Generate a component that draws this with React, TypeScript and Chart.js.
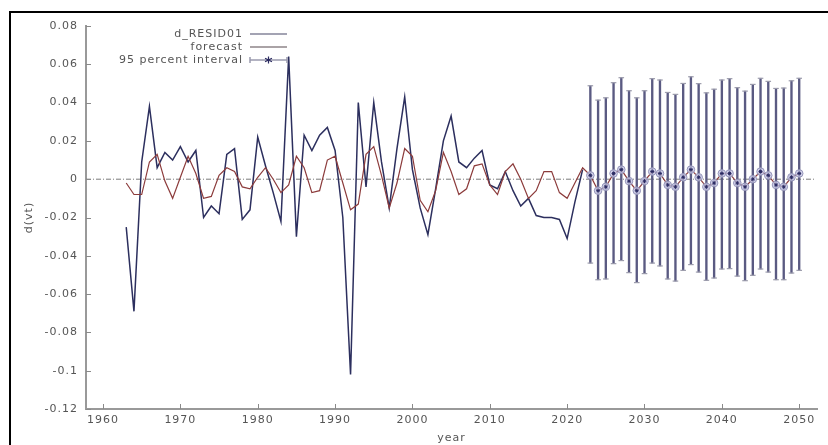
import React, { useEffect, useRef } from "react";
import { Chart, registerables } from "chart.js";

Chart.register(...registerables);

// ---- data ----
const residYears = [
  1963, 1964, 1965, 1966, 1967, 1968, 1969, 1970, 1971, 1972,
  1973, 1974, 1975, 1976, 1977, 1978, 1979, 1980, 1981, 1982,
  1983, 1984, 1985, 1986, 1987, 1988, 1989, 1990, 1991, 1992,
  1993, 1994, 1995, 1996, 1997, 1998, 1999, 2000, 2001, 2002,
  2003, 2004, 2005, 2006, 2007, 2008, 2009, 2010, 2011, 2012,
  2013, 2014, 2015, 2016, 2017, 2018, 2019, 2020, 2021, 2022,
];

const dResid01 = [
  -0.025, -0.069, 0.009, 0.038, 0.006, 0.014, 0.010, 0.017, 0.009, 0.015,
  -0.020, -0.014, -0.018, 0.013, 0.016, -0.021, -0.016, 0.022, 0.007, -0.007,
  -0.022, 0.064, -0.030, 0.023, 0.015, 0.023, 0.027, 0.015, -0.020, -0.102,
  0.040, -0.004, 0.040, 0.009, -0.015, 0.016, 0.043, 0.005, -0.015, -0.029,
  -0.005, 0.020, 0.033, 0.009, 0.006, 0.011, 0.015, -0.003, -0.005, 0.004,
  -0.006, -0.014, -0.010, -0.019, -0.020, -0.020, -0.021, -0.031, -0.012, 0.005,
];

const fittedValues = [
  -0.002, -0.008, -0.008, 0.009, 0.013, -0.001, -0.010, 0.001, 0.012, 0.003,
  -0.010, -0.009, 0.002, 0.006, 0.004, -0.004, -0.005, 0.001, 0.006, 0.000,
  -0.007, -0.003, 0.012, 0.006, -0.007, -0.006, 0.010, 0.012, -0.002, -0.016,
  -0.013, 0.013, 0.017, 0.002, -0.015, -0.002, 0.016, 0.012, -0.011, -0.017,
  -0.006, 0.014, 0.004, -0.008, -0.005, 0.007, 0.008, -0.003, -0.008, 0.004,
  0.008, 0.000, -0.010, -0.006, 0.004, 0.004, -0.007, -0.010, -0.002, 0.006,
];

const forecastYears = [
  2023, 2024, 2025, 2026, 2027, 2028, 2029, 2030, 2031, 2032,
  2033, 2034, 2035, 2036, 2037, 2038, 2039, 2040, 2041, 2042,
  2043, 2044, 2045, 2046, 2047, 2048, 2049, 2050,
];

const forecastValues = [
  0.002, -0.006, -0.004, 0.003, 0.005, -0.001, -0.006, -0.001, 0.004, 0.003,
  -0.003, -0.004, 0.001, 0.005, 0.001, -0.004, -0.002, 0.003, 0.003, -0.002,
  -0.004, 0.000, 0.004, 0.002, -0.003, -0.004, 0.001, 0.003,
];

const upper95 = [
  0.0488, 0.0413, 0.0425, 0.0504, 0.0530, 0.0462, 0.0425, 0.0462, 0.0525, 0.0518,
  0.0453, 0.0443, 0.0500, 0.0535, 0.0499, 0.0451, 0.0470, 0.0518, 0.0525, 0.0478,
  0.0460, 0.0495, 0.0527, 0.0511, 0.0474, 0.0476, 0.0514, 0.0527,
];

const lower95 = [
  -0.0438, -0.0525, -0.0521, -0.0441, -0.0425, -0.0488, -0.0540, -0.0493, -0.0438, -0.0453,
  -0.0521, -0.0532, -0.0476, -0.0446, -0.0485, -0.0528, -0.0516, -0.0469, -0.0467, -0.0506,
  -0.0530, -0.0502, -0.0469, -0.0485, -0.0525, -0.0525, -0.0490, -0.0476,
];

const legendLabels = ["d_RESID01", "forecast", "95 percent interval"];
const xTitle = "year";
const yTitle = "d(vt)";

const X_MIN = 1957.8;
const X_MAX = 2052.3;
const Y_MIN = -0.12;
const Y_MAX = 0.08;

// ---- style ----
const FONT_FAMILY = '"DejaVu Sans", Verdana, sans-serif';
const LETTER_SPACING = "1px";
const TEXT_COLOR = "#555";
const RESID_COLOR = "#2c2f5e";
const FCAST_COLOR = "#8c3b3b";
const BAR_COLOR = "#5a5a82";

const spacingPlugin = {
  id: "letterSpacing",
  beforeDraw(chart: any) {
    chart.ctx.letterSpacing = LETTER_SPACING;
  },
};

const decorPlugin = {
  id: "decor",
  afterDraw(chart: any) {
    const { ctx, chartArea, scales } = chart;
    ctx.save();
    // inward tick marks
    ctx.strokeStyle = "#8a8a8a";
    ctx.lineWidth = 1;
    scales.y.ticks.forEach((t: any) => {
      const y = Math.round(scales.y.getPixelForValue(t.value)) + 0.5;
      ctx.beginPath();
      ctx.moveTo(chartArea.left, y);
      ctx.lineTo(chartArea.left + 5, y);
      ctx.stroke();
    });
    scales.x.ticks.forEach((t: any) => {
      const x = Math.round(scales.x.getPixelForValue(t.value)) + 0.5;
      ctx.beginPath();
      ctx.moveTo(x, chartArea.bottom);
      ctx.lineTo(x, chartArea.bottom - 5);
      ctx.stroke();
    });

    // legend (gnuplot style, text right-aligned, sample on the right)
    ctx.font = `11px ${FONT_FAMILY}`;
    ctx.letterSpacing = LETTER_SPACING;
    ctx.fillStyle = TEXT_COLOR;
    ctx.textAlign = "right";
    ctx.textBaseline = "middle";
    const textRight = 243;
    const rowY = [34, 47, 60];
    const sx0 = 250;
    const sx1 = 287;
    legendLabels.forEach((label, i) => {
      ctx.fillText(label, textRight, rowY[i]);
    });
    ctx.lineWidth = 1.5;
    ctx.strokeStyle = "#85859a";
    ctx.beginPath();
    ctx.moveTo(sx0, rowY[0]);
    ctx.lineTo(sx1, rowY[0]);
    ctx.stroke();
    ctx.strokeStyle = "#8e8488";
    ctx.beginPath();
    ctx.moveTo(sx0, rowY[1]);
    ctx.lineTo(sx1, rowY[1]);
    ctx.stroke();
    // interval sample
    ctx.strokeStyle = "#9a9aae";
    ctx.beginPath();
    ctx.moveTo(sx0, rowY[2]);
    ctx.lineTo(sx1, rowY[2]);
    ctx.moveTo(sx0, rowY[2] - 3);
    ctx.lineTo(sx0, rowY[2] + 3);
    ctx.moveTo(sx1, rowY[2] - 3);
    ctx.lineTo(sx1, rowY[2] + 3);
    ctx.stroke();
    const cx = (sx0 + sx1) / 2;
    const cy = rowY[2];
    ctx.strokeStyle = "#2a2a60";
    ctx.lineWidth = 1.2;
    ctx.beginPath();
    for (let k = 0; k < 3; k++) {
      const a = (Math.PI / 3) * k + Math.PI / 2;
      ctx.moveTo(cx + Math.cos(a) * 4, cy + Math.sin(a) * 3.5);
      ctx.lineTo(cx - Math.cos(a) * 4, cy - Math.sin(a) * 3.5);
    }
    ctx.stroke();
    ctx.restore();
  },
};

export default function App() {
  const canvasRef = useRef<HTMLCanvasElement | null>(null);

  useEffect(() => {
    const canvas = canvasRef.current;
    if (!canvas) return;
    const lastResidYear = residYears[residYears.length - 1];

    const residData = residYears.map((x, i) => ({ x, y: dResid01[i] }));
    const fcastData = [
      ...residYears.map((x, i) => ({ x, y: fittedValues[i] })),
      ...forecastYears.map((x, i) => ({ x, y: forecastValues[i] })),
    ];
    const intervalData = forecastYears.map((x, i) => ({ x, y: [lower95[i], upper95[i]] }));
    const capData = [
      ...forecastYears.map((x, i) => ({ x, y: upper95[i] })),
      ...forecastYears.map((x, i) => ({ x, y: lower95[i] })),
    ];
    const starData = forecastYears.map((x, i) => ({ x, y: forecastValues[i] }));

    const tickFont = { family: FONT_FAMILY, size: 11 };

    const chart = new Chart(canvas, {
      type: "line",
      data: {
        datasets: [
          {
            label: "zero",
            data: [
              { x: X_MIN, y: 0 },
              { x: X_MAX - 0.3, y: 0 },
            ],
            borderColor: "#7a7a7a",
            borderWidth: 1,
            borderDash: [5, 2, 1, 2],
            pointRadius: 0,
            order: 10,
          },
          {
            label: legendLabels[0],
            data: residData,
            borderColor: RESID_COLOR,
            borderWidth: 1.5,
            pointRadius: 0,
            tension: 0,
            order: 6,
          },
          {
            type: "bar",
            label: legendLabels[2],
            data: intervalData as any,
            backgroundColor: BAR_COLOR,
            barThickness: 1.7,
            order: 5,
          } as any,
          {
            type: "scatter",
            label: "caps",
            data: capData,
            showLine: false,
            pointStyle: "line",
            pointRadius: 2.8,
            borderColor: "#9c9cac",
            borderWidth: 1.2,
            order: 4,
          } as any,
          {
            label: legendLabels[1],
            data: fcastData,
            borderColor: FCAST_COLOR,
            borderWidth: 1.2,
            tension: 0,
            pointRadius: (c: any) => (c.raw && c.raw.x > lastResidYear ? 3.8 : 0),
            pointBackgroundColor: "rgba(200,200,230,0.8)",
            pointBorderColor: "#9494b8",
            pointBorderWidth: 1,
            order: 2,
          },
          {
            type: "scatter",
            label: "fcast-points",
            data: starData,
            showLine: false,
            pointStyle: "star",
            pointRadius: 2,
            borderColor: "#2a2a62",
            borderWidth: 1,
            order: 1,
          } as any,
        ],
      },
      options: {
        responsive: false,
        devicePixelRatio: 1,
        animation: false,
        events: [],
        layout: { padding: { left: 0, top: 26, right: 11, bottom: 0 } },
        plugins: {
          legend: { display: false },
          tooltip: { enabled: false },
        },
        scales: {
          x: {
            type: "linear",
            min: X_MIN,
            max: X_MAX,
            offset: false,
            bounds: "ticks",
            afterFit: (s: any) => {
              s.height = 36;
            },
            grid: { display: true, drawOnChartArea: false, drawTicks: false, offset: false },
            border: { display: true, color: "#999", width: 2 },
            ticks: {
              stepSize: 10,
              includeBounds: false,
              autoSkip: false,
              maxRotation: 0,
              padding: 5,
              color: TEXT_COLOR,
              font: tickFont,
              callback: (v: any) => String(Math.round(Number(v))),
            },
            title: {
              display: true,
              text: xTitle,
              color: TEXT_COLOR,
              font: tickFont,
              padding: { top: 0, bottom: 0 },
            },
          } as any,
          y: {
            type: "linear",
            min: Y_MIN,
            max: Y_MAX,
            afterFit: (s: any) => {
              s.width = 86;
            },
            grid: { display: true, drawOnChartArea: false, drawTicks: false },
            border: { display: true, color: "#999", width: 2 },
            ticks: {
              stepSize: 0.02,
              padding: 8,
              color: TEXT_COLOR,
              font: tickFont,
              callback: (v: any) => String(Number(Number(v).toFixed(2))),
            },
            title: {
              display: true,
              text: yTitle,
              color: TEXT_COLOR,
              font: tickFont,
              padding: { top: 23, bottom: 0 },
            },
          } as any,
        },
      },
      plugins: [spacingPlugin, decorPlugin],
    } as any);

    return () => {
      chart.destroy();
    };
  }, []);

  return (
    <div
      style={{
        position: "fixed",
        left: 0,
        top: 0,
        width: 828,
        height: 445,
        background: "#fff",
        overflow: "hidden",
      }}
    >
      <canvas
        ref={canvasRef}
        width={828}
        height={445}
        style={{ position: "absolute", left: 0, top: 0, width: 828, height: 445 }}
      />
      <div
        style={{
          position: "absolute",
          left: 9,
          top: 11,
          right: 0,
          bottom: 0,
          borderLeft: "2px solid #000",
          borderTop: "2px solid #000",
          pointerEvents: "none",
        }}
      />
    </div>
  );
}
